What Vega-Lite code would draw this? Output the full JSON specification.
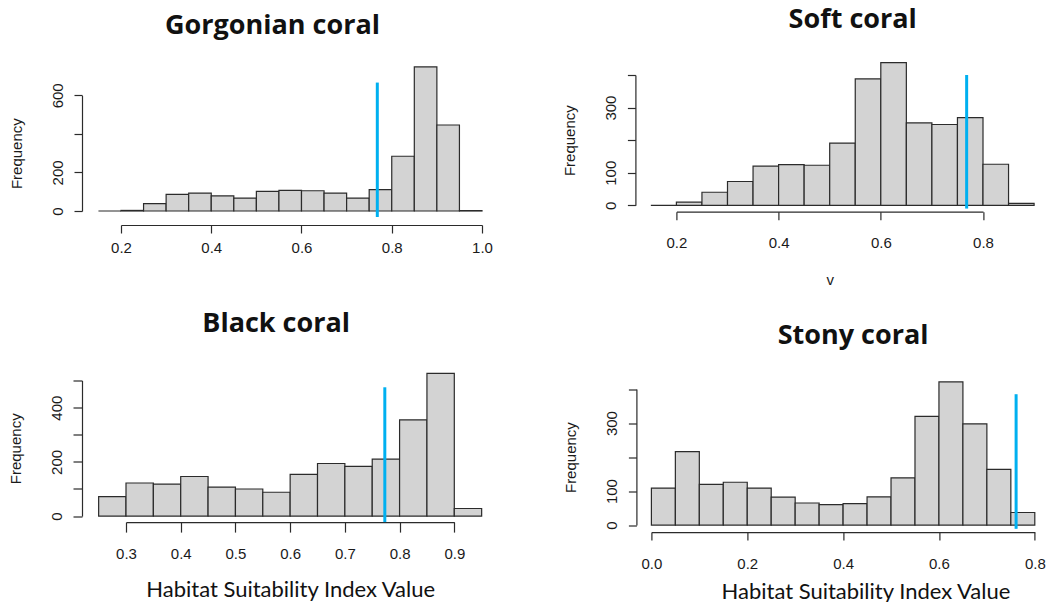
{
  "$schema": "https://vega.github.io/schema/vega-lite/v6.json",
  "background": "white",
  "padding": {"left": 7, "top": 6, "right": 0, "bottom": 0},
  "config": {
    "view": {"stroke": null},
    "axis": {
      "grid": false,
      "domainColor": "#2b2b2b",
      "tickColor": "#2b2b2b",
      "domainWidth": 1.2,
      "tickWidth": 1.2,
      "labelColor": "#1a1a1a",
      "titleColor": "#1a1a1a",
      "labelFont": "Liberation Sans",
      "titleFont": "Liberation Sans",
      "labelFontSize": 15,
      "titleFontSize": 15,
      "titleFontWeight": "normal",
      "labelOverlap": false,
      "labelFlush": false,
      "tickCount": 20
    },
    "axisY": {"labelAngle": 270, "labelAlign": "center", "labelBaseline": "alphabetic", "titlePadding": 26},
    "title": {"font": "Open Sans", "fontSize": 27, "fontWeight": "bold", "color": "#111111", "baseline": "alphabetic", "frame": "group"}
  },
  "datasets": {
    "gorgonian": [
      {"bin_start": 0.15, "bin_end": 0.2, "count": 0},
      {"bin_start": 0.2, "bin_end": 0.25, "count": 3},
      {"bin_start": 0.25, "bin_end": 0.3, "count": 38},
      {"bin_start": 0.3, "bin_end": 0.35, "count": 86},
      {"bin_start": 0.35, "bin_end": 0.4, "count": 93},
      {"bin_start": 0.4, "bin_end": 0.45, "count": 78},
      {"bin_start": 0.45, "bin_end": 0.5, "count": 67},
      {"bin_start": 0.5, "bin_end": 0.55, "count": 102},
      {"bin_start": 0.55, "bin_end": 0.6, "count": 107},
      {"bin_start": 0.6, "bin_end": 0.65, "count": 105},
      {"bin_start": 0.65, "bin_end": 0.7, "count": 93},
      {"bin_start": 0.7, "bin_end": 0.75, "count": 67},
      {"bin_start": 0.75, "bin_end": 0.8, "count": 111},
      {"bin_start": 0.8, "bin_end": 0.85, "count": 284},
      {"bin_start": 0.85, "bin_end": 0.9, "count": 747},
      {"bin_start": 0.9, "bin_end": 0.95, "count": 446},
      {"bin_start": 0.95, "bin_end": 1.0, "count": 2}
    ],
    "soft": [
      {"bin_start": 0.15, "bin_end": 0.2, "count": 0},
      {"bin_start": 0.2, "bin_end": 0.25, "count": 10},
      {"bin_start": 0.25, "bin_end": 0.3, "count": 40},
      {"bin_start": 0.3, "bin_end": 0.35, "count": 73},
      {"bin_start": 0.35, "bin_end": 0.4, "count": 120},
      {"bin_start": 0.4, "bin_end": 0.45, "count": 125},
      {"bin_start": 0.45, "bin_end": 0.5, "count": 123},
      {"bin_start": 0.5, "bin_end": 0.55, "count": 191},
      {"bin_start": 0.55, "bin_end": 0.6, "count": 388},
      {"bin_start": 0.6, "bin_end": 0.65, "count": 438},
      {"bin_start": 0.65, "bin_end": 0.7, "count": 253},
      {"bin_start": 0.7, "bin_end": 0.75, "count": 248},
      {"bin_start": 0.75, "bin_end": 0.8, "count": 269},
      {"bin_start": 0.8, "bin_end": 0.85, "count": 126},
      {"bin_start": 0.85, "bin_end": 0.9, "count": 6}
    ],
    "black": [
      {"bin_start": 0.25, "bin_end": 0.3, "count": 72},
      {"bin_start": 0.3, "bin_end": 0.35, "count": 122},
      {"bin_start": 0.35, "bin_end": 0.4, "count": 118},
      {"bin_start": 0.4, "bin_end": 0.45, "count": 146},
      {"bin_start": 0.45, "bin_end": 0.5, "count": 107},
      {"bin_start": 0.5, "bin_end": 0.55, "count": 100},
      {"bin_start": 0.55, "bin_end": 0.6, "count": 88},
      {"bin_start": 0.6, "bin_end": 0.65, "count": 154},
      {"bin_start": 0.65, "bin_end": 0.7, "count": 194},
      {"bin_start": 0.7, "bin_end": 0.75, "count": 183},
      {"bin_start": 0.75, "bin_end": 0.8, "count": 210},
      {"bin_start": 0.8, "bin_end": 0.85, "count": 355},
      {"bin_start": 0.85, "bin_end": 0.9, "count": 526},
      {"bin_start": 0.9, "bin_end": 0.95, "count": 28}
    ],
    "stony": [
      {"bin_start": 0.0, "bin_end": 0.05, "count": 109},
      {"bin_start": 0.05, "bin_end": 0.1, "count": 216},
      {"bin_start": 0.1, "bin_end": 0.15, "count": 120},
      {"bin_start": 0.15, "bin_end": 0.2, "count": 126},
      {"bin_start": 0.2, "bin_end": 0.25, "count": 109},
      {"bin_start": 0.25, "bin_end": 0.3, "count": 82},
      {"bin_start": 0.3, "bin_end": 0.35, "count": 65},
      {"bin_start": 0.35, "bin_end": 0.4, "count": 60},
      {"bin_start": 0.4, "bin_end": 0.45, "count": 63},
      {"bin_start": 0.45, "bin_end": 0.5, "count": 83},
      {"bin_start": 0.5, "bin_end": 0.55, "count": 139},
      {"bin_start": 0.55, "bin_end": 0.6, "count": 320},
      {"bin_start": 0.6, "bin_end": 0.65, "count": 421},
      {"bin_start": 0.65, "bin_end": 0.7, "count": 298},
      {"bin_start": 0.7, "bin_end": 0.75, "count": 164},
      {"bin_start": 0.75, "bin_end": 0.8, "count": 37}
    ],
    "thresholds": [
      {"coral": "Gorgonian coral", "hsi": 0.768, "lo": -31, "hi": 666},
      {"coral": "Soft coral", "hsi": 0.768, "lo": -10, "hi": 400},
      {"coral": "Black coral", "hsi": 0.773, "lo": -22, "hi": 475},
      {"coral": "Stony coral", "hsi": 0.761, "lo": -11, "hi": 385}
    ]
  },
  "spacing": 21.5,
  "vconcat": [
    {
      "spacing": 69.4,
      "hconcat": [
        {
          "width": 361, "height": 136,
          "title": {"text": "Gorgonian coral", "dx": -29, "offset": 26},
          "layer": [
            {
              "data": {"name": "gorgonian"},
              "mark": {"type": "bar", "fill": "#d3d3d3", "stroke": "#2b2b2b", "strokeWidth": 1.2},
              "encoding": {
                "x": {"field": "bin_start", "type": "quantitative",
                  "scale": {"domain": [0.2, 1.0], "nice": false, "zero": false},
                  "axis": {"values": [0.2, 0.4, 0.6, 0.8, 1.0], "format": ".1f", "title": null, "offset": 14, "tickSize": 8, "labelPadding": 7}},
                "x2": {"field": "bin_end"},
                "y": {"field": "count", "type": "quantitative",
                  "scale": {"domain": [0, 600], "range": [136, 20.3], "nice": false},
                  "axis": {"values": [0, 200, 400, 600], "title": "Frequency", "offset": 39, "tickSize": 8, "labelPadding": 12, "labelExpr": "datum.value == 400 ? '' : datum.label"}},
                "y2": {"datum": 0}
              }
            },
            {
              "data": {"name": "thresholds"},
              "transform": [{"filter": "datum.coral == 'Gorgonian coral'"}],
              "mark": {"type": "rule", "color": "#00b0f0", "strokeWidth": 3},
              "encoding": {
                "x": {"field": "hsi", "type": "quantitative"},
                "y": {"field": "lo", "type": "quantitative"},
                "y2": {"field": "hi"}
              }
            }
          ]
        },
        {
          "width": 306.6, "height": 130.3,
          "title": {"text": "Soft coral", "dx": 23, "offset": 28},
          "layer": [
            {
              "data": {"name": "soft"},
              "mark": {"type": "bar", "fill": "#d3d3d3", "stroke": "#2b2b2b", "strokeWidth": 1.2},
              "encoding": {
                "x": {"field": "bin_start", "type": "quantitative",
                  "scale": {"domain": [0.2, 0.8], "nice": false, "zero": false},
                  "axis": {"values": [0.2, 0.4, 0.6, 0.8], "format": ".1f", "title": "v", "titlePadding": 22, "offset": 6.4, "tickSize": 8, "labelPadding": 16}},
                "x2": {"field": "bin_end"},
                "y": {"field": "count", "type": "quantitative",
                  "scale": {"domain": [0, 400], "nice": false},
                  "axis": {"values": [0, 100, 200, 300, 400], "title": "Frequency", "offset": 41, "tickSize": 8, "labelPadding": 12, "labelExpr": "datum.value == 200 || datum.value == 400 ? '' : datum.label"}},
                "y2": {"datum": 0}
              }
            },
            {
              "data": {"name": "thresholds"},
              "transform": [{"filter": "datum.coral == 'Soft coral'"}],
              "mark": {"type": "rule", "color": "#00b0f0", "strokeWidth": 3},
              "encoding": {
                "x": {"field": "hsi", "type": "quantitative"},
                "y": {"field": "lo", "type": "quantitative"},
                "y2": {"field": "hi"}
              }
            }
          ]
        }
      ]
    },
    {
      "spacing": 80.4,
      "hconcat": [
        {
          "width": 333.3, "height": 135.6,
          "title": {"text": "Black coral", "dx": -11.5, "offset": 34.7},
          "layer": [
            {
              "data": {"name": "black"},
              "mark": {"type": "bar", "fill": "#d3d3d3", "stroke": "#2b2b2b", "strokeWidth": 1.2},
              "encoding": {
                "x": {"field": "bin_start", "type": "quantitative",
                  "scale": {"domain": [0.3, 0.9], "range": [5, 333.3], "nice": false, "zero": false},
                  "axis": {"values": [0.3, 0.4, 0.5, 0.6, 0.7, 0.8, 0.9], "format": ".1f", "title": "Habitat Suitability Index Value", "titleFont": "Lato", "titleFontSize": 22, "titleColor": "#111111", "titlePadding": 18, "offset": 6, "tickSize": 10, "labelPadding": 14}},
                "x2": {"field": "bin_end"},
                "y": {"field": "count", "type": "quantitative",
                  "scale": {"domain": [0, 500], "nice": false},
                  "axis": {"values": [0, 100, 200, 300, 400, 500], "title": "Frequency", "offset": 39, "tickSize": 9, "labelPadding": 12, "labelExpr": "datum.value == 100 || datum.value == 300 || datum.value == 500 ? '' : datum.label"}},
                "y2": {"datum": 0}
              }
            },
            {
              "data": {"name": "thresholds"},
              "transform": [{"filter": "datum.coral == 'Black coral'"}],
              "mark": {"type": "rule", "color": "#00b0f0", "strokeWidth": 3},
              "encoding": {
                "x": {"field": "hsi", "type": "quantitative"},
                "y": {"field": "lo", "type": "quantitative"},
                "y2": {"field": "hi"}
              }
            }
          ]
        },
        {
          "width": 383.4, "height": 144.6,
          "title": {"text": "Stony coral", "dx": 10, "offset": 30.7},
          "layer": [
            {
              "data": {"name": "stony"},
              "mark": {"type": "bar", "fill": "#d3d3d3", "stroke": "#2b2b2b", "strokeWidth": 1.2},
              "encoding": {
                "x": {"field": "bin_start", "type": "quantitative",
                  "scale": {"domain": [0.0, 0.8], "nice": false, "zero": false},
                  "axis": {"values": [0.0, 0.2, 0.4, 0.6, 0.8], "format": ".1f", "title": "Habitat Suitability Index Value", "titleFont": "Lato", "titleFontSize": 22, "titleColor": "#111111", "titleX": 214, "titleY": 66, "titleAlign": "center", "titleBaseline": "alphabetic", "offset": 7, "tickSize": 8, "labelPadding": 16}},
                "x2": {"field": "bin_end"},
                "y": {"field": "count", "type": "quantitative",
                  "scale": {"domain": [0, 400], "range": [144.6, 8.6], "nice": false},
                  "axis": {"values": [0, 100, 200, 300, 400], "title": "Frequency", "offset": 15, "tickSize": 8, "labelPadding": 12, "labelExpr": "datum.value == 200 || datum.value == 400 ? '' : datum.label"}},
                "y2": {"datum": 0}
              }
            },
            {
              "data": {"name": "thresholds"},
              "transform": [{"filter": "datum.coral == 'Stony coral'"}],
              "mark": {"type": "rule", "color": "#00b0f0", "strokeWidth": 3},
              "encoding": {
                "x": {"field": "hsi", "type": "quantitative"},
                "y": {"field": "lo", "type": "quantitative"},
                "y2": {"field": "hi"}
              }
            }
          ]
        }
      ]
    }
  ]
}
